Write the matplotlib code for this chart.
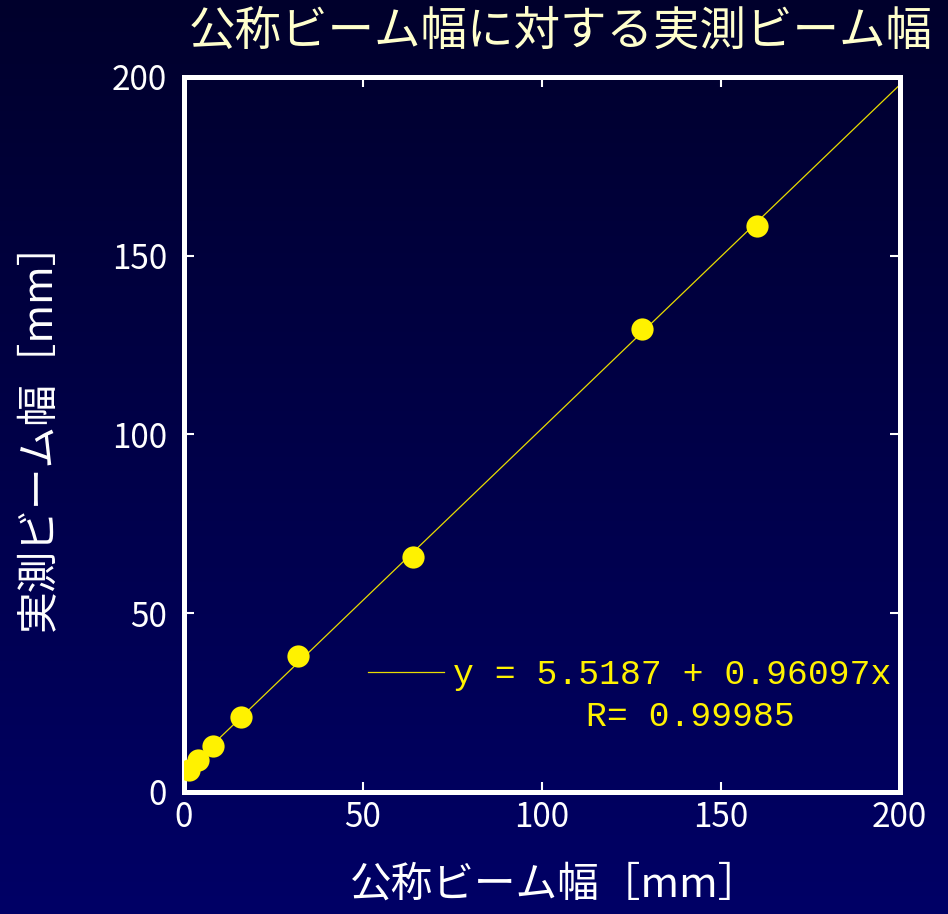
import numpy as np
import matplotlib
matplotlib.use('Agg')
from matplotlib import pyplot as plt
from matplotlib.colors import LinearSegmentedColormap

plt.rcParams['font.family'] = ['Noto Sans CJK JP', 'DejaVu Sans']

# nominal vs measured beam width [mm]
nominal = [1.5, 4, 8, 16, 32, 64, 128, 160]
measured = [6.2, 9.0, 12.9, 21.0, 38.0, 65.7, 129.5, 158.3]

# linear fit result
fit_a = 5.5187
fit_b = 0.96097
fit_r = 0.99985

title = '公称ビーム幅に対する実測ビーム幅'
xlabel = '公称ビーム幅［mm］'
ylabel = '実測ビーム幅［mm］'
ticks = [0, 50, 100, 150, 200]

fig = plt.figure(figsize=(9.48, 9.14), dpi=100)

# dark navy gradient behind everything
bg = fig.add_axes([0, 0, 1, 1], zorder=-10)
grad = np.linspace(0, 1, 256).reshape(-1, 1)
cmap = LinearSegmentedColormap.from_list('navy', ['#00002c', '#000066'])
bg.imshow(grad, aspect='auto', cmap=cmap, extent=[0, 1, 0, 1])
bg.axis('off')

ax = fig.add_axes([0.194, 0.1335, 0.755, 0.7825])
ax.patch.set_alpha(0)

xs = np.array([0, 200])
ax.plot(xs, fit_a + fit_b * xs, color='#e8dc00', lw=0.9,
        label='y = %.4f + %.5fx' % (fit_a, fit_b))
ax.plot(nominal, measured, 'o', color='#fff200', ms=16, mec='none', zorder=3)

ax.set_xlim(0, 200)
ax.set_ylim(0, 200)
ax.set_xticks(ticks)
ax.set_yticks(ticks)
for s in ax.spines.values():
    s.set_color('white')
    s.set_linewidth(3.6)
ax.tick_params(direction='in', length=7, width=1.5, colors='white',
               top=True, right=True, labelsize=24)
ax.tick_params(axis='y', pad=12)
ax.tick_params(axis='x', pad=6)

leg = ax.legend(loc='center right', bbox_to_anchor=(0.988, 0.164), frameon=False,
                borderpad=0, borderaxespad=0, handlelength=2.2, handletextpad=0.25,
                prop={'family': 'Liberation Mono', 'size': 25})
for t in leg.get_texts():
    t.set_color('#fff200')
ax.text(0.708, 0.105, 'R= %.5f' % fit_r, transform=ax.transAxes, ha='center',
        va='center', color='#fff200', family='Liberation Mono', fontsize=25)

fig.text(0.591, 0.965, title, ha='center', va='center', color='#ffffcc', fontsize=33.5)
fig.text(0.585, 0.032, xlabel, ha='center', va='center', color='white', fontsize=30)
fig.text(0.042, 0.534, ylabel, ha='center', va='center', color='white', fontsize=30,
         rotation=90)

fig.savefig('out.png', dpi=100)
